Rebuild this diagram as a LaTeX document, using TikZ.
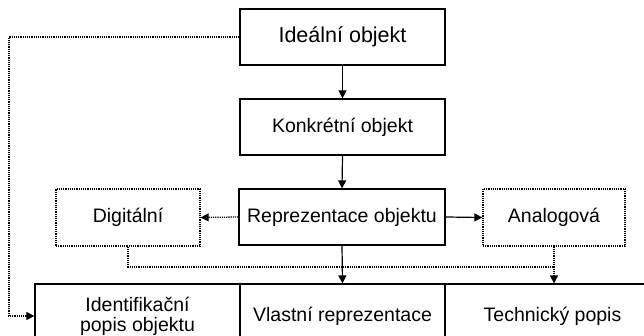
\documentclass[tikz,border=0pt]{standalone}
\usepackage{fontspec}
\setmainfont{Liberation Sans}
\usetikzlibrary{arrows.meta}
\begin{document}
\begin{tikzpicture}[x=1pt,y=-1pt,
  box/.style={draw,line width=1.2pt,inner sep=0pt,align=center,font=\fontsize{19.5}{20}\selectfont},
  arr/.style={line width=1.2pt,-{Triangle[length=8pt,width=8pt]}},
  dotl/.style={line width=1.3pt,dash pattern=on 1.2pt off 1pt}]
\useasboundingbox (0,0) rectangle (644,336);
\node[box,minimum width=205pt,minimum height=56pt,font=\fontsize{21.5}{22}\selectfont] (ideal) at (342.5,37) {Ideální objekt};
\node[box,minimum width=205pt,minimum height=56pt] (konk) at (342.5,127) {Konkrétní objekt};
\node[box,minimum width=206pt,minimum height=56pt] (repr) at (342,217) {Reprezentace objektu};
\node[box,dotl,minimum width=144pt,minimum height=57pt] (dig) at (128,217.5) {Digitální};
\node[box,dotl,minimum width=142pt,minimum height=57pt] (ana) at (554,217.5) {Analogová};
\node[box,minimum width=205pt,minimum height=64pt] (b1) at (137.5,316) {Identifikační\\popis objektu};
\node[box,minimum width=205pt,minimum height=64pt] (b2) at (342.5,316) {Vlastní reprezentace};
\node[box,minimum width=215pt,minimum height=64pt] (b3) at (552.5,316) {Technický popis};
\coordinate (lc) at (9,37);
\coordinate (j) at (554,267);
\draw[arr] (ideal.south) -- (konk.north);
\draw[arr] (konk.south) -- (repr.north);
\draw[arr] (repr.east) -- (ana.west);
\draw[arr,dotl] (repr.west) -- (dig.east);
\draw[dotl] (dig.south) |- (j);
\draw[arr] (repr.south) -- (b2.north);
\draw[arr,dotl] (ana.south) -- (ana.south |- b3.north);
\draw[arr,dotl] (ideal.west) -- (lc) |- (b1.west);
\end{tikzpicture}
\end{document}
